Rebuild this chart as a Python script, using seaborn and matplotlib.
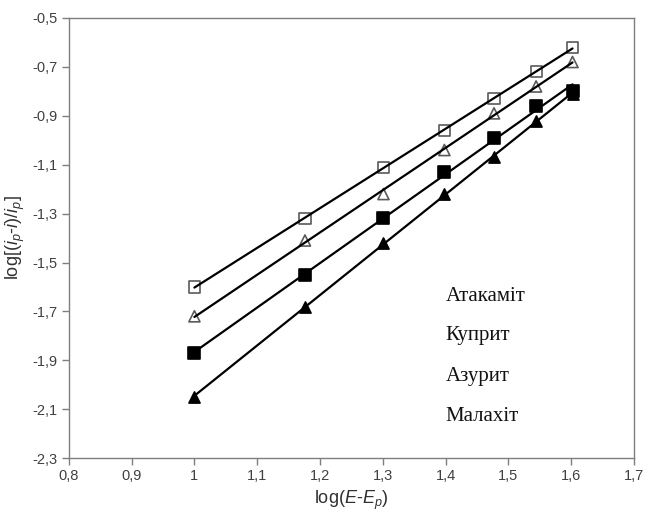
import numpy as np
import pandas as pd
import matplotlib
matplotlib.use('Agg')
import matplotlib.pyplot as plt
from matplotlib.ticker import FuncFormatter, FixedLocator
import seaborn as sns

# Datos
log_e = [1.0, 1.176, 1.301, 1.398, 1.477, 1.544, 1.602]
atacamite = [-1.60, -1.32, -1.11, -0.96, -0.83, -0.72, -0.62]
cuprite = [-1.72, -1.41, -1.22, -1.04, -0.89, -0.78, -0.68]
azurite = [-1.87, -1.55, -1.32, -1.13, -0.99, -0.86, -0.80]
malachite = [-2.05, -1.68, -1.42, -1.22, -1.07, -0.92, -0.81]
minerals = ['Атакаміт', 'Куприт', 'Азурит', 'Малахіт']
x_ticks = [0.8, 0.9, 1.0, 1.1, 1.2, 1.3, 1.4, 1.5, 1.6, 1.7]
y_ticks = [-2.3, -2.1, -1.9, -1.7, -1.5, -1.3, -1.1, -0.9, -0.7, -0.5]

sns.set_style('white')
plt.rcParams['font.family'] = ['Liberation Sans', 'DejaVu Sans']
plt.rcParams['mathtext.fontset'] = 'custom'
plt.rcParams['mathtext.rm'] = 'Liberation Sans'
plt.rcParams['mathtext.it'] = 'Liberation Sans:italic'

df = pd.DataFrame({'x': log_e, 'Атакаміт': atacamite, 'Куприт': cuprite,
                   'Азурит': azurite, 'Малахіт': malachite})

fig = plt.figure(figsize=(6.49, 5.29), dpi=100)
ax = fig.add_axes([0.106, 0.134, 0.871, 0.832])

# estilo de marcador por mineral
styles = {
    'Атакаміт': dict(marker='s', facecolors='none', edgecolors='#5a5a5a'),
    'Куприт': dict(marker='^', facecolors='none', edgecolors='#5a5a5a'),
    'Азурит': dict(marker='s', facecolors='black', edgecolors='black'),
    'Малахіт': dict(marker='^', facecolors='black', edgecolors='black'),
}

for m in minerals:
    st = styles[m]
    sns.regplot(x='x', y=m, data=df, ax=ax, ci=None, truncate=True,
                marker=st['marker'],
                scatter_kws={'s': 64, 'facecolors': st['facecolors'], 'alpha': 1,
                             'edgecolors': st['edgecolors'], 'linewidths': 1.2},
                line_kws={'color': 'black', 'lw': 1.6})

ax.set_xlim(0.8, 1.7)
ax.set_ylim(-2.3, -0.5)
ax.xaxis.set_major_locator(FixedLocator(x_ticks))
ax.yaxis.set_major_locator(FixedLocator(y_ticks))
ax.xaxis.set_major_formatter(FuncFormatter(lambda v, p: ('%g' % round(v, 2)).replace('.', ',')))
ax.yaxis.set_major_formatter(FuncFormatter(lambda v, p: ('%.1f' % v).replace('.', ',')))

for s in ax.spines.values():
    s.set_color('#7f7f7f')
    s.set_linewidth(1.0)
ax.tick_params(axis='both', direction='out', length=5, width=1, color='#7f7f7f',
               labelsize=10.5, labelcolor='#404040', bottom=True, left=True,
               pad=3)

ax.set_xlabel(r'log($\mathit{E}$-$\mathit{E_p}$)', fontsize=13, color='#303030')
ax.set_ylabel(r'log[($\mathit{i_p}$-$\mathit{i}$)/$\mathit{i_p}$]', fontsize=13,
              color='#303030', labelpad=4)

# etiquetas de la leyenda (solo texto)
label_y = [-1.64, -1.80, -1.965, -2.13]
for name, yy in zip(minerals, label_y):
    ax.text(1.40, yy, name, fontsize=15, va='center', ha='left',
            family=['Liberation Serif', 'DejaVu Serif'], color='#111111')

plt.savefig('out.png', dpi=100)
